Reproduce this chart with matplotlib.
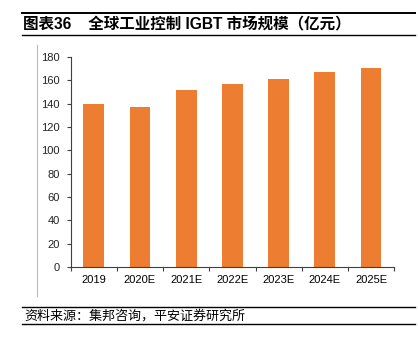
import matplotlib
matplotlib.use('Agg')
import matplotlib.pyplot as plt
from matplotlib.lines import Line2D

plt.rcParams['font.family'] = ['Liberation Sans', 'Noto Sans CJK SC']

years = ['2019', '2020E', '2021E', '2022E', '2023E', '2024E', '2025E']
market_size = [140, 137, 152, 157, 161, 167, 171]
y_ticks = [0, 20, 40, 60, 80, 100, 120, 140, 160, 180]

title = '图表36    全球工业控制 IGBT 市场规模（亿元）'
source = '资料来源：集邦咨询，平安证券研究所'

fig = plt.figure(figsize=(4.18, 3.42), dpi=100)
ax = fig.add_axes([0.169, 0.219, 0.774, 0.614])

x = range(len(years))
ax.bar(x, market_size, width=0.45, color='#ED7D31', zorder=2)

ax.set_xlim(-0.5, len(years) - 0.5)
ax.set_ylim(0, 180)
ax.set_yticks(y_ticks)
ax.set_xticks(x)
ax.set_xticklabels(years, fontsize=8)
ax.set_xticks([i + 0.5 for i in range(-1, len(years))], minor=True)
ax.tick_params(axis='x', which='major', length=0, pad=6)
ax.tick_params(axis='x', which='minor', length=3, width=0.8, color='#404040', direction='out')
ax.tick_params(axis='y', labelsize=8, length=3, width=0.8, color='#404040', pad=5)
for lbl in ax.get_yticklabels():
    lbl.set_color('#222222')

for side in ['top', 'right']:
    ax.spines[side].set_visible(False)
for side in ['left', 'bottom']:
    ax.spines[side].set_color('#404040')
    ax.spines[side].set_linewidth(0.8)

W, H = 418, 342

def hline(y, lw):
    fig.add_artist(Line2D([22 / W, 415 / W], [1 - y / H, 1 - y / H], color='black', lw=lw))

hline(13, 1.4)
hline(35, 1.0)
hline(307, 1.0)
hline(324, 1.0)
fig.add_artist(Line2D([37 / W, 37 / W], [1 - 45 / H, 1 - 296 / H], color='#BBBBBB', lw=0.8))

fig.text(23 / W, 1 - 24 / H, title, fontsize=11.2, fontweight='bold', va='center', ha='left')
fig.text(24 / W, 1 - 316 / H, source, fontsize=9.4, style='italic', va='center', ha='left')

fig.savefig('out.png', dpi=100)
